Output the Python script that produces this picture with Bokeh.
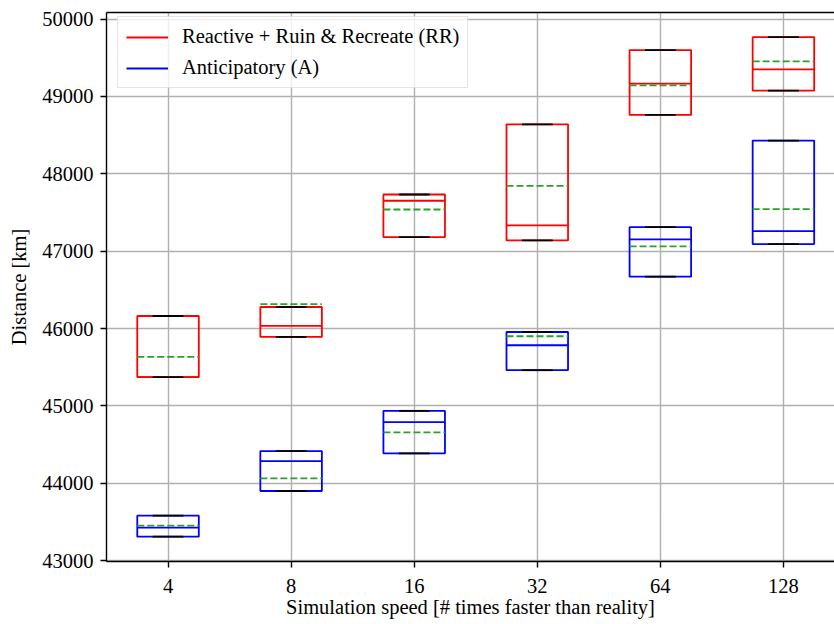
from bokeh.plotting import figure
from bokeh.models import (FixedTicker, NumeralTickFormatter, LinearAxis, Range1d,
                          Legend, LegendItem, ColumnDataSource)
from bokeh.embed import file_html
from bokeh.resources import INLINE

# ---- data ----
categories = ["4", "8", "16", "32", "64", "128"]

rr_q1 = [45372, 45892, 47182, 47139, 48761, 49075]
rr_median = [45372, 46034, 47652, 47333, 49165, 49350]
rr_q3 = [46163, 46279, 47733, 48640, 49600, 49768]
rr_mean = [45634, 46317, 47539, 47845, 49143, 49453]
rr_whislo = [45372, 45892, 47182, 47139, 48761, 49075]
rr_whishi = [46163, 46279, 47733, 48640, 49600, 49768]

a_q1 = [43311, 43901, 44387, 45462, 46671, 47092]
a_median = [43427, 44288, 44791, 45785, 47152, 47259]
a_q3 = [43582, 44417, 44937, 45956, 47311, 48430]
a_mean = [43453, 44065, 44658, 45901, 47062, 47543]
a_whislo = [43311, 43901, 44387, 45462, 46671, 47092]
a_whishi = [43582, 44417, 44937, 45956, 47311, 48430]

y_ticks = [43000, 44000, 45000, 46000, 47000, 48000, 49000, 50000]

FONT = "Liberation Serif"
FS = "20.5px"
BOX_W = 0.5

positions = list(range(1, len(categories) + 1))

p = figure(width=834, height=624,
           x_range=Range1d(0.5, 6.415), y_range=Range1d(42990, 50085),
           output_backend="svg", toolbar_location=None,
           min_border_left=106, min_border_right=0, min_border_top=12,
           min_border_bottom=63)
p.outline_line_color = None
p.background_fill_color = "white"
p.border_fill_color = "white"

# axes
p.xaxis.ticker = FixedTicker(ticks=positions)
p.xaxis.major_label_overrides = {pos: c for pos, c in zip(positions, categories)}
p.yaxis.ticker = FixedTicker(ticks=y_ticks)
p.yaxis.formatter = NumeralTickFormatter(format="0")
for ax in (p.xaxis[0], p.yaxis[0]):
    ax.minor_tick_line_color = None
    ax.major_tick_in = 0
    ax.major_tick_out = 6
    ax.major_tick_line_width = 1.4
    ax.axis_line_width = 1.4
    ax.axis_line_color = "black"
    ax.major_tick_line_color = "black"
    ax.major_label_text_font = FONT
    ax.major_label_text_font_size = FS
    ax.major_label_text_color = "black"
    ax.axis_label_text_font = FONT
    ax.axis_label_text_font_size = FS
    ax.axis_label_text_font_style = "normal"
    ax.axis_label_text_color = "black"
p.xaxis.axis_label = "Simulation speed [# times faster than reality]"
p.yaxis.axis_label = "Distance [km]"
p.xaxis.major_label_standoff = 11
p.yaxis.major_label_standoff = 7
p.xaxis.axis_label_standoff = 0
p.yaxis.axis_label_standoff = 9

top = LinearAxis(ticker=FixedTicker(ticks=[]), major_label_text_font_size="0px",
                 major_tick_out=0, major_tick_in=0, minor_tick_line_color=None,
                 axis_line_width=1.4, axis_line_color="black", major_label_standoff=0)
p.add_layout(top, "above")

p.grid.grid_line_color = "#b0b0b0"
p.grid.grid_line_width = 1.4
p.xgrid.ticker = FixedTicker(ticks=positions)
p.ygrid.ticker = FixedTicker(ticks=y_ticks)


def draw(q1, med, q3, mean, wlo, whi, color):
    src = ColumnDataSource(dict(
        x=positions,
        left=[x - BOX_W / 2 for x in positions],
        right=[x + BOX_W / 2 for x in positions],
        capl=[x - BOX_W / 4 for x in positions],
        capr=[x + BOX_W / 4 for x in positions],
        q1=q1, med=med, q3=q3, mean=mean, wlo=wlo, whi=whi))
    p.segment(x0="x", y0="q1", x1="x", y1="wlo", source=src, line_color="black", line_width=1.8)
    p.segment(x0="x", y0="q3", x1="x", y1="whi", source=src, line_color="black", line_width=1.8)
    p.quad(left="left", right="right", bottom="q1", top="q3", source=src,
           fill_color=None, line_color=color, line_width=1.8)
    medr = p.segment(x0="left", y0="med", x1="right", y1="med", source=src,
                     line_color=color, line_width=1.8)
    p.segment(x0="capl", y0="wlo", x1="capr", y1="wlo", source=src, line_color="black", line_width=1.8)
    p.segment(x0="capl", y0="whi", x1="capr", y1="whi", source=src, line_color="black", line_width=1.8)
    p.segment(x0="left", y0="mean", x1="right", y1="mean", source=src,
              line_color="#2ca02c", line_width=1.8, line_dash="7 3")
    return medr


r_rr = draw(rr_q1, rr_median, rr_q3, rr_mean, rr_whislo, rr_whishi, "red")
r_a = draw(a_q1, a_median, a_q3, a_mean, a_whislo, a_whishi, "blue")

legend = Legend(items=[LegendItem(label="Reactive + Ruin & Recreate (RR)", renderers=[r_rr]),
                       LegendItem(label="Anticipatory (A)", renderers=[r_a])],
                location=(11, 473), margin=0, padding=8, spacing=8,
                glyph_width=42, glyph_height=22, label_height=22, label_standoff=14,
                label_text_font=FONT, label_text_font_size=FS, label_text_color="black",
                border_line_color="#cccccc", border_line_width=1.4,
                background_fill_alpha=0.8)
p.add_layout(legend)

open("out.html", "w").write(file_html(p, INLINE))
